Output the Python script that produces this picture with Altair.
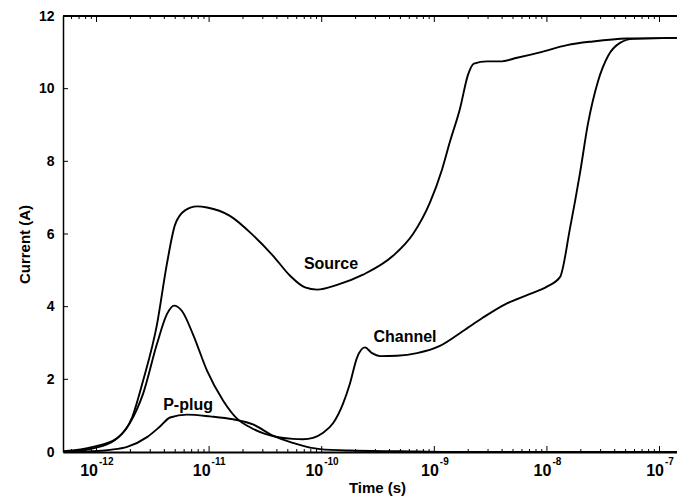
import altair as alt
import pandas as pd

# ---- data ----
source_t = [5.0e-13, 9.3e-13, 1.52e-12, 2.07e-12, 2.59e-12, 3.44e-12, 4.23e-12, 4.98e-12,
            6.11e-12, 7.82e-12, 9.6e-12, 1.53e-11, 2.45e-11, 3.70e-11, 5.24e-11, 7.11e-11,
            9.1e-11, 1.37e-10, 2.33e-10, 4.30e-10, 6.47e-10, 9.16e-10, 1.17e-9, 1.38e-9,
            1.69e-9, 2.0e-9, 2.25e-9, 2.94e-9, 3.84e-9, 5.43e-9, 8.69e-9, 1.51e-8, 2.56e-8,
            5.14e-8, 1.62e-7]
source_i = [0.02, 0.14, 0.38, 0.95, 1.96, 3.5, 5.2, 6.25,
            6.65, 6.76, 6.73, 6.5, 5.97, 5.4, 4.85, 4.53,
            4.47, 4.6, 4.88, 5.4, 6.0, 6.87, 7.77, 8.55,
            9.45, 10.4, 10.69, 10.75, 10.75, 10.85, 11.0, 11.2, 11.3,
            11.38, 11.4]

channel_t = [5.04e-13, 9.31e-13, 1.46e-12, 1.98e-12, 2.59e-12, 3.44e-12, 4.23e-12, 4.88e-12,
             5.74e-12, 7.19e-12, 9.58e-12, 1.33e-11, 1.77e-11, 2.31e-11, 3.14e-11, 4.26e-11,
             5.56e-11, 6.82e-11, 8.37e-11, 1.03e-10, 1.26e-10, 1.55e-10, 1.78e-10, 2.06e-10,
             2.42e-10, 2.80e-10, 3.30e-10, 4.66e-10, 7.02e-10, 1.12e-9, 1.80e-9, 2.71e-9,
             4.42e-9, 7.08e-9, 1.00e-8, 1.31e-8, 1.60e-8, 1.97e-8, 2.32e-8, 2.84e-8,
             3.49e-8, 4.46e-8, 5.82e-8, 1.62e-7]
channel_i = [0.0, 0.1, 0.33, 0.8, 1.6, 2.97, 3.8, 4.03,
             3.88, 3.24, 2.24, 1.42, 0.92, 0.68, 0.5, 0.4,
             0.36, 0.35, 0.39, 0.53, 0.79, 1.34, 1.88, 2.6,
             2.88, 2.72, 2.64, 2.65, 2.72, 2.92, 3.33, 3.7,
             4.09, 4.35, 4.55, 4.82, 6.14, 7.69, 9.05, 10.2,
             10.9, 11.26, 11.37, 11.4]

pplug_t = [5.04e-13, 9.31e-13, 1.32e-12, 1.87e-12, 2.81e-12, 3.66e-12, 4.50e-12, 6.36e-12,
           1.02e-11, 1.63e-11, 2.45e-11, 3.69e-11, 5.56e-11, 7.87e-11, 9.66e-11, 1.78e-10,
           4.96e-10, 1.38e-9, 1.62e-7]
pplug_i = [0.0, 0.02, 0.06, 0.14, 0.41, 0.7, 0.95, 1.03,
           0.98, 0.9, 0.76, 0.45, 0.25, 0.12, 0.08, 0.04,
           0.02, 0.0, 0.0]

label_names = ["Source", "Channel", "P-plug"]
label_t = [1.21e-10, 5.49e-10, 6.5e-12]
label_i = [5.18, 3.16, 1.28]

decades = [1e-12, 1e-11, 1e-10, 1e-9, 1e-8, 1e-7]
decade_exp = ["-12", "-11", "-10", "-9", "-8", "-7"]
minor_mult = [2, 3, 4, 5, 6, 7, 8, 9]
y_ticks = [0, 2, 4, 6, 8, 10, 12]

x_lo, x_hi = 5.04e-13, 1.43e-7
W, H = 614, 436
FONT = "Liberation Sans"

# ---- tables ----
lines = pd.concat([
    pd.DataFrame({"series": "Source", "t": source_t, "I": source_i}),
    pd.DataFrame({"series": "Channel", "t": channel_t, "I": channel_i}),
    pd.DataFrame({"series": "P-plug", "t": pplug_t, "I": pplug_i}),
])
labels = pd.DataFrame({"name": label_names, "t": label_t, "I": label_i})
dec = pd.DataFrame({"t": decades, "exp": decade_exp, "base": ["10"] * len(decades)})
dec["n"] = dec["exp"].str.len()
minor = pd.DataFrame({"t": [m * 10.0 ** e for e in range(-13, -6) for m in minor_mult
                             if x_lo <= m * 10.0 ** e <= x_hi]})
yt = pd.DataFrame({"I": y_ticks})

xscale = alt.Scale(type="log", domain=[x_lo, x_hi], nice=False)
yscale = alt.Scale(domain=[0, 12], nice=False)

xaxis = alt.Axis(
    title="Time (s)", labels=False, ticks=False, grid=False,
    domainColor="black", domainWidth=2, titleFont=FONT, titleFontSize=15,
    titleFontWeight="bold", titleColor="black", titleX=314, titleY=35,
    titleBaseline="middle", titleAnchor="start", titleAlign="center")
yaxis = alt.Axis(
    title="Current (A)", values=y_ticks, ticks=False, grid=False, labelPadding=9,
    labelFont=FONT, labelFontSize=14, labelFontWeight="bold", labelColor="black",
    domainColor="black", domainWidth=1.5, titleFont=FONT, titleFontSize=15,
    titleFontWeight="bold", titleColor="black", titleX=-39, titleY=228,
    titleAlign="center", titleBaseline="middle", titleAnchor="start", titleAngle=270)

X = alt.X("t:Q", scale=xscale, axis=xaxis)
Y = alt.Y("I:Q", scale=yscale, axis=yaxis)

main = alt.Chart(lines).mark_line(color="black", strokeWidth=1.9, interpolate="monotone", clip=True).encode(
    x=X, y=Y, detail="series:N")

txt = alt.Chart(labels).mark_text(font=FONT, fontSize=16, fontWeight="bold", color="black").encode(
    x=X, y=Y, text="name:N")

maj_bot = alt.Chart(dec).mark_rule(color="black", strokeWidth=1).encode(
    x=X, y=alt.value(H), y2=alt.value(H - 6))
maj_top = alt.Chart(dec).mark_rule(color="black", strokeWidth=1).encode(
    x=X, y=alt.value(0), y2=alt.value(6))
min_bot = alt.Chart(minor).mark_rule(color="black", strokeWidth=1).encode(
    x=X, y=alt.value(H), y2=alt.value(H - 3))
min_top = alt.Chart(minor).mark_rule(color="black", strokeWidth=1).encode(
    x=X, y=alt.value(0), y2=alt.value(3))
y_tk = alt.Chart(yt).mark_rule(color="black", strokeWidth=1).encode(
    y=Y, x=alt.value(0), x2=alt.value(5))
top_line = alt.Chart(yt).mark_rule(color="black", strokeWidth=1.5).encode(
    y=alt.value(0), x=alt.value(0), x2=alt.value(W))

def dec_labels(nchar, dx):
    base = alt.Chart(dec).transform_filter(alt.datum.n == nchar)
    b = base.mark_text(font=FONT, fontSize=16, fontWeight="bold", color="black",
                       align="right", baseline="middle", dx=dx).encode(
        x=X, y=alt.value(H + 19), text="base:N")
    s = base.mark_text(font=FONT, fontSize=10, fontWeight="bold", color="black",
                       align="left", baseline="middle", dx=dx + 1).encode(
        x=X, y=alt.value(H + 10), text="exp:N")
    return [b, s]

chart = alt.layer(
    main, txt, maj_bot, maj_top, min_bot, min_top, y_tk, top_line,
    *dec_labels(3, 1.5), *dec_labels(2, 4.5),
).properties(
    width=W, height=H,
    autosize=alt.AutoSizeParams(type="none"),
    padding={"left": 55, "top": 8, "right": 0, "bottom": 45},
    background="white",
).configure_view(stroke=None)

chart.save("out.html", embed_options={"renderer": "svg", "actions": False})
